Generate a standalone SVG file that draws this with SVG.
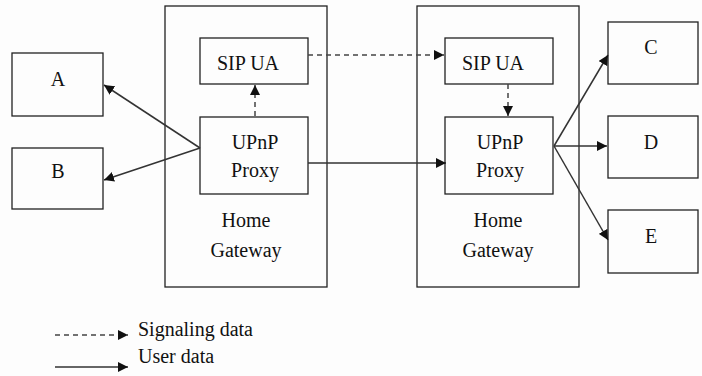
<svg xmlns="http://www.w3.org/2000/svg" width="702" height="376" viewBox="0 0 702 376" font-family="Liberation Serif, serif" font-size="20">
<defs>
<marker id="ah" viewBox="0 0 10 10" refX="10" refY="5" markerWidth="10" markerHeight="10" markerUnits="userSpaceOnUse" orient="auto">
<path d="M0,0 L10,5 L0,10 z" fill="#111"/>
</marker>
<style>
.box{fill:none;stroke:#222;stroke-width:1.3}
.t{fill:#111;text-anchor:middle}
.s{stroke:#333;stroke-width:1.5;fill:none}
.d{stroke:#444;stroke-width:1.5;fill:none;stroke-dasharray:5,4}
</style>
</defs>
<rect width="702" height="376" fill="#fdfdfd"/>
<g id="gw1"><rect class="box" x="165" y="6" width="162" height="281"/><text class="t" x="246" y="227">Home</text><text class="t" x="246" y="257">Gateway</text></g>
<g id="sip1"><rect class="box" x="200" y="38" width="108" height="46"/><text class="t" x="248" y="70">SIP UA</text></g>
<g id="upnp1"><rect class="box" x="200" y="117" width="108" height="77"/><text class="t" x="255" y="149">UPnP</text><text class="t" x="255" y="177">Proxy</text></g>
<g id="gw2"><rect class="box" x="417" y="6" width="162" height="281"/><text class="t" x="498" y="227">Home</text><text class="t" x="498" y="257">Gateway</text></g>
<g id="sip2"><rect class="box" x="445" y="38" width="108" height="46"/><text class="t" x="493" y="70">SIP UA</text></g>
<g id="upnp2"><rect class="box" x="445" y="117" width="108" height="77"/><text class="t" x="500" y="149">UPnP</text><text class="t" x="500" y="177">Proxy</text></g>
<g id="A"><rect class="box" x="12" y="53" width="91" height="63"/><text class="t" x="58" y="86">A</text></g>
<g id="B"><rect class="box" x="12" y="148" width="91" height="61"/><text class="t" x="58" y="178">B</text></g>
<g id="C"><rect class="box" x="608" y="22" width="90" height="62"/><text class="t" x="651" y="54">C</text></g>
<g id="D"><rect class="box" x="608" y="116" width="90" height="62"/><text class="t" x="651" y="149">D</text></g>
<g id="E"><rect class="box" x="608" y="210" width="90" height="63"/><text class="t" x="651" y="243">E</text></g>
<g id="connectors">
<line class="s" x1="200" y1="148" x2="104" y2="85" marker-end="url(#ah)"/>
<line class="s" x1="200" y1="148" x2="104" y2="180" marker-end="url(#ah)"/>
<line class="d" x1="255" y1="116" x2="255" y2="85" marker-end="url(#ah)"/>
<line class="d" x1="308" y1="55" x2="444" y2="55" marker-end="url(#ah)"/>
<line class="s" x1="308" y1="163" x2="446" y2="163" marker-end="url(#ah)"/>
<line class="d" x1="508" y1="84" x2="508" y2="116" marker-end="url(#ah)"/>
<line class="s" x1="554" y1="146" x2="608" y2="55" marker-end="url(#ah)"/>
<line class="s" x1="554" y1="146" x2="607" y2="146" marker-end="url(#ah)"/>
<line class="s" x1="554" y1="146" x2="608" y2="240" marker-end="url(#ah)"/>
</g>
<g id="legend">
<line class="d" x1="55" y1="335" x2="128" y2="335" marker-end="url(#ah)"/>
<text x="138" y="336" fill="#111">Signaling data</text>
<line class="s" x1="55" y1="367" x2="128" y2="367" marker-end="url(#ah)"/>
<text x="138" y="363" fill="#111">User data</text>
</g>
</svg>
